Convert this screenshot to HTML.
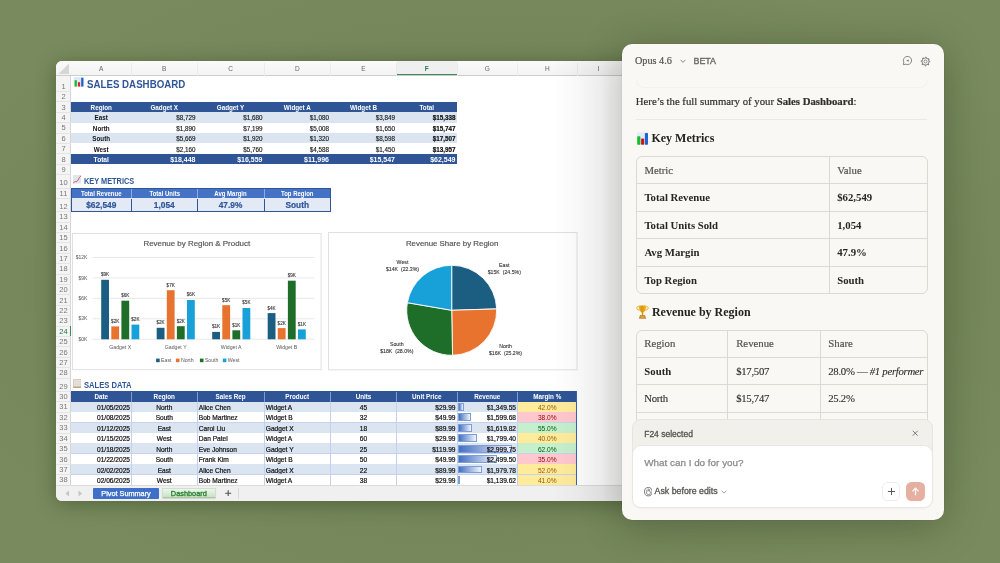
<!DOCTYPE html><html><head><meta charset="utf-8"><style>
html,body{margin:0;padding:0;width:1000px;height:563px;overflow:hidden;}
body{background:#798b5e;position:relative;font-family:'Liberation Sans', sans-serif;}
.a{position:absolute;}
</style></head><body>
<div class="a" style="left:0;top:0;width:1000px;height:563px;background:radial-gradient(ellipse 60% 60% at 50% 50%, rgba(40,55,20,0.18), rgba(0,0,0,0) 100%);"></div>
<div class="a" style="left:56.0px;top:61.0px;width:594.0px;height:439.5px;border-radius:6px;background:#fff;overflow:hidden;will-change:transform;box-shadow:0 3px 20px rgba(25,40,10,0.38);">
<div style="position:absolute;left:0.00px;top:0.00px;width:594.00px;height:14.50px;background:linear-gradient(#fafafa,#f3f3f3);border-bottom:1px solid #cdcdcd;box-sizing:border-box;"></div><div style="position:absolute;left:340.50px;top:0.00px;width:60.50px;height:13.50px;background:#efefef;"></div><div style="position:absolute;left:0.00px;top:14.50px;width:15.00px;height:409.50px;background:#f4f4f4;border-right:1px solid #d6d6d6;box-sizing:border-box;"></div><svg style="position:absolute;left:0;top:0" width="15" height="15"><polygon points="13,2.5 13,13 2.5,13" fill="#d6d6d6"/></svg><div style="position:absolute;left:15.00px;top:0.00px;width:60.50px;height:14.50px;display:flex;align-items:center;justify-content:center;white-space:nowrap;font:6.5px 'Liberation Sans', sans-serif;color:#666;padding-top:1px;box-sizing:border-box;">A</div><div style="position:absolute;left:75.00px;top:2.00px;width:1.00px;height:12.50px;background:#ebebeb;"></div><div style="position:absolute;left:75.50px;top:0.00px;width:65.50px;height:14.50px;display:flex;align-items:center;justify-content:center;white-space:nowrap;font:6.5px 'Liberation Sans', sans-serif;color:#666;padding-top:1px;box-sizing:border-box;">B</div><div style="position:absolute;left:140.50px;top:2.00px;width:1.00px;height:12.50px;background:#ebebeb;"></div><div style="position:absolute;left:141.00px;top:0.00px;width:67.00px;height:14.50px;display:flex;align-items:center;justify-content:center;white-space:nowrap;font:6.5px 'Liberation Sans', sans-serif;color:#666;padding-top:1px;box-sizing:border-box;">C</div><div style="position:absolute;left:207.50px;top:2.00px;width:1.00px;height:12.50px;background:#ebebeb;"></div><div style="position:absolute;left:208.00px;top:0.00px;width:66.50px;height:14.50px;display:flex;align-items:center;justify-content:center;white-space:nowrap;font:6.5px 'Liberation Sans', sans-serif;color:#666;padding-top:1px;box-sizing:border-box;">D</div><div style="position:absolute;left:274.00px;top:2.00px;width:1.00px;height:12.50px;background:#ebebeb;"></div><div style="position:absolute;left:274.50px;top:0.00px;width:66.00px;height:14.50px;display:flex;align-items:center;justify-content:center;white-space:nowrap;font:6.5px 'Liberation Sans', sans-serif;color:#666;padding-top:1px;box-sizing:border-box;">E</div><div style="position:absolute;left:340.00px;top:2.00px;width:1.00px;height:12.50px;background:#ebebeb;"></div><div style="position:absolute;left:340.50px;top:0.00px;width:60.50px;height:14.50px;display:flex;align-items:center;justify-content:center;white-space:nowrap;font:6.5px 'Liberation Sans', sans-serif;color:#2e7d4f;font-weight:bold;padding-top:1px;box-sizing:border-box;">F</div><div style="position:absolute;left:400.50px;top:2.00px;width:1.00px;height:12.50px;background:#ebebeb;"></div><div style="position:absolute;left:401.00px;top:0.00px;width:60.50px;height:14.50px;display:flex;align-items:center;justify-content:center;white-space:nowrap;font:6.5px 'Liberation Sans', sans-serif;color:#666;padding-top:1px;box-sizing:border-box;">G</div><div style="position:absolute;left:461.00px;top:2.00px;width:1.00px;height:12.50px;background:#ebebeb;"></div><div style="position:absolute;left:461.50px;top:0.00px;width:59.50px;height:14.50px;display:flex;align-items:center;justify-content:center;white-space:nowrap;font:6.5px 'Liberation Sans', sans-serif;color:#666;padding-top:1px;box-sizing:border-box;">H</div><div style="position:absolute;left:520.50px;top:2.00px;width:1.00px;height:12.50px;background:#ebebeb;"></div><div style="position:absolute;left:521.50px;top:0.00px;width:42.50px;height:14.50px;display:flex;align-items:center;justify-content:center;white-space:nowrap;font:6.5px 'Liberation Sans', sans-serif;color:#666;padding-top:1px;box-sizing:border-box;">I</div><div style="position:absolute;left:581.00px;top:2.00px;width:1.00px;height:12.50px;background:#ebebeb;"></div><div style="position:absolute;left:340.50px;top:12.80px;width:60.50px;height:1.70px;background:#3b8a55;"></div><div style="position:absolute;left:0.00px;top:20.10px;width:15.00px;height:10.40px;display:flex;align-items:center;justify-content:center;white-space:nowrap;font:7.5px 'Liberation Sans', sans-serif;color:#777;">1</div><div style="position:absolute;left:0.00px;top:30.00px;width:15.00px;height:1.00px;background:#e4e4e4;"></div><div style="position:absolute;left:0.00px;top:30.50px;width:15.00px;height:10.40px;display:flex;align-items:center;justify-content:center;white-space:nowrap;font:7.5px 'Liberation Sans', sans-serif;color:#777;">2</div><div style="position:absolute;left:0.00px;top:40.40px;width:15.00px;height:1.00px;background:#e4e4e4;"></div><div style="position:absolute;left:0.00px;top:40.90px;width:15.00px;height:10.40px;display:flex;align-items:center;justify-content:center;white-space:nowrap;font:7.5px 'Liberation Sans', sans-serif;color:#777;">3</div><div style="position:absolute;left:0.00px;top:50.80px;width:15.00px;height:1.00px;background:#e4e4e4;"></div><div style="position:absolute;left:0.00px;top:51.30px;width:15.00px;height:10.40px;display:flex;align-items:center;justify-content:center;white-space:nowrap;font:7.5px 'Liberation Sans', sans-serif;color:#777;">4</div><div style="position:absolute;left:0.00px;top:61.20px;width:15.00px;height:1.00px;background:#e4e4e4;"></div><div style="position:absolute;left:0.00px;top:61.70px;width:15.00px;height:10.40px;display:flex;align-items:center;justify-content:center;white-space:nowrap;font:7.5px 'Liberation Sans', sans-serif;color:#777;">5</div><div style="position:absolute;left:0.00px;top:71.60px;width:15.00px;height:1.00px;background:#e4e4e4;"></div><div style="position:absolute;left:0.00px;top:72.10px;width:15.00px;height:10.40px;display:flex;align-items:center;justify-content:center;white-space:nowrap;font:7.5px 'Liberation Sans', sans-serif;color:#777;">6</div><div style="position:absolute;left:0.00px;top:82.00px;width:15.00px;height:1.00px;background:#e4e4e4;"></div><div style="position:absolute;left:0.00px;top:82.50px;width:15.00px;height:10.40px;display:flex;align-items:center;justify-content:center;white-space:nowrap;font:7.5px 'Liberation Sans', sans-serif;color:#777;">7</div><div style="position:absolute;left:0.00px;top:92.40px;width:15.00px;height:1.00px;background:#e4e4e4;"></div><div style="position:absolute;left:0.00px;top:92.90px;width:15.00px;height:10.40px;display:flex;align-items:center;justify-content:center;white-space:nowrap;font:7.5px 'Liberation Sans', sans-serif;color:#777;">8</div><div style="position:absolute;left:0.00px;top:102.80px;width:15.00px;height:1.00px;background:#e4e4e4;"></div><div style="position:absolute;left:0.00px;top:103.30px;width:15.00px;height:10.40px;display:flex;align-items:center;justify-content:center;white-space:nowrap;font:7.5px 'Liberation Sans', sans-serif;color:#777;">9</div><div style="position:absolute;left:0.00px;top:113.20px;width:15.00px;height:1.00px;background:#e4e4e4;"></div><div style="position:absolute;left:0.00px;top:116.70px;width:15.00px;height:10.40px;display:flex;align-items:center;justify-content:center;white-space:nowrap;font:7.5px 'Liberation Sans', sans-serif;color:#777;">10</div><div style="position:absolute;left:0.00px;top:126.60px;width:15.00px;height:1.00px;background:#e4e4e4;"></div><div style="position:absolute;left:0.00px;top:127.10px;width:15.00px;height:10.40px;display:flex;align-items:center;justify-content:center;white-space:nowrap;font:7.5px 'Liberation Sans', sans-serif;color:#777;">11</div><div style="position:absolute;left:0.00px;top:137.00px;width:15.00px;height:1.00px;background:#e4e4e4;"></div><div style="position:absolute;left:0.00px;top:140.30px;width:15.00px;height:10.40px;display:flex;align-items:center;justify-content:center;white-space:nowrap;font:7.5px 'Liberation Sans', sans-serif;color:#777;">12</div><div style="position:absolute;left:0.00px;top:150.20px;width:15.00px;height:1.00px;background:#e4e4e4;"></div><div style="position:absolute;left:0.00px;top:150.70px;width:15.00px;height:10.40px;display:flex;align-items:center;justify-content:center;white-space:nowrap;font:7.5px 'Liberation Sans', sans-serif;color:#777;">13</div><div style="position:absolute;left:0.00px;top:160.60px;width:15.00px;height:1.00px;background:#e4e4e4;"></div><div style="position:absolute;left:0.00px;top:161.10px;width:15.00px;height:10.40px;display:flex;align-items:center;justify-content:center;white-space:nowrap;font:7.5px 'Liberation Sans', sans-serif;color:#777;">14</div><div style="position:absolute;left:0.00px;top:171.00px;width:15.00px;height:1.00px;background:#e4e4e4;"></div><div style="position:absolute;left:0.00px;top:171.50px;width:15.00px;height:10.40px;display:flex;align-items:center;justify-content:center;white-space:nowrap;font:7.5px 'Liberation Sans', sans-serif;color:#777;">15</div><div style="position:absolute;left:0.00px;top:181.40px;width:15.00px;height:1.00px;background:#e4e4e4;"></div><div style="position:absolute;left:0.00px;top:181.90px;width:15.00px;height:10.40px;display:flex;align-items:center;justify-content:center;white-space:nowrap;font:7.5px 'Liberation Sans', sans-serif;color:#777;">16</div><div style="position:absolute;left:0.00px;top:191.80px;width:15.00px;height:1.00px;background:#e4e4e4;"></div><div style="position:absolute;left:0.00px;top:192.30px;width:15.00px;height:10.40px;display:flex;align-items:center;justify-content:center;white-space:nowrap;font:7.5px 'Liberation Sans', sans-serif;color:#777;">17</div><div style="position:absolute;left:0.00px;top:202.20px;width:15.00px;height:1.00px;background:#e4e4e4;"></div><div style="position:absolute;left:0.00px;top:202.70px;width:15.00px;height:10.40px;display:flex;align-items:center;justify-content:center;white-space:nowrap;font:7.5px 'Liberation Sans', sans-serif;color:#777;">18</div><div style="position:absolute;left:0.00px;top:212.60px;width:15.00px;height:1.00px;background:#e4e4e4;"></div><div style="position:absolute;left:0.00px;top:213.10px;width:15.00px;height:10.40px;display:flex;align-items:center;justify-content:center;white-space:nowrap;font:7.5px 'Liberation Sans', sans-serif;color:#777;">19</div><div style="position:absolute;left:0.00px;top:223.00px;width:15.00px;height:1.00px;background:#e4e4e4;"></div><div style="position:absolute;left:0.00px;top:223.50px;width:15.00px;height:10.40px;display:flex;align-items:center;justify-content:center;white-space:nowrap;font:7.5px 'Liberation Sans', sans-serif;color:#777;">20</div><div style="position:absolute;left:0.00px;top:233.40px;width:15.00px;height:1.00px;background:#e4e4e4;"></div><div style="position:absolute;left:0.00px;top:233.90px;width:15.00px;height:10.40px;display:flex;align-items:center;justify-content:center;white-space:nowrap;font:7.5px 'Liberation Sans', sans-serif;color:#777;">21</div><div style="position:absolute;left:0.00px;top:243.80px;width:15.00px;height:1.00px;background:#e4e4e4;"></div><div style="position:absolute;left:0.00px;top:244.30px;width:15.00px;height:10.40px;display:flex;align-items:center;justify-content:center;white-space:nowrap;font:7.5px 'Liberation Sans', sans-serif;color:#777;">22</div><div style="position:absolute;left:0.00px;top:254.20px;width:15.00px;height:1.00px;background:#e4e4e4;"></div><div style="position:absolute;left:0.00px;top:254.70px;width:15.00px;height:10.40px;display:flex;align-items:center;justify-content:center;white-space:nowrap;font:7.5px 'Liberation Sans', sans-serif;color:#777;">23</div><div style="position:absolute;left:0.00px;top:264.60px;width:15.00px;height:1.00px;background:#e4e4e4;"></div><div style="position:absolute;left:0.00px;top:265.10px;width:15.00px;height:10.40px;display:flex;align-items:center;justify-content:center;white-space:nowrap;font:7.5px 'Liberation Sans', sans-serif;color:#217346;">24</div><div style="position:absolute;left:0.00px;top:275.00px;width:15.00px;height:1.00px;background:#e4e4e4;"></div><div style="position:absolute;left:0.00px;top:275.50px;width:15.00px;height:10.40px;display:flex;align-items:center;justify-content:center;white-space:nowrap;font:7.5px 'Liberation Sans', sans-serif;color:#777;">25</div><div style="position:absolute;left:0.00px;top:285.40px;width:15.00px;height:1.00px;background:#e4e4e4;"></div><div style="position:absolute;left:0.00px;top:285.90px;width:15.00px;height:10.40px;display:flex;align-items:center;justify-content:center;white-space:nowrap;font:7.5px 'Liberation Sans', sans-serif;color:#777;">26</div><div style="position:absolute;left:0.00px;top:295.80px;width:15.00px;height:1.00px;background:#e4e4e4;"></div><div style="position:absolute;left:0.00px;top:296.30px;width:15.00px;height:10.40px;display:flex;align-items:center;justify-content:center;white-space:nowrap;font:7.5px 'Liberation Sans', sans-serif;color:#777;">27</div><div style="position:absolute;left:0.00px;top:306.20px;width:15.00px;height:1.00px;background:#e4e4e4;"></div><div style="position:absolute;left:0.00px;top:306.70px;width:15.00px;height:10.40px;display:flex;align-items:center;justify-content:center;white-space:nowrap;font:7.5px 'Liberation Sans', sans-serif;color:#777;">28</div><div style="position:absolute;left:0.00px;top:316.60px;width:15.00px;height:1.00px;background:#e4e4e4;"></div><div style="position:absolute;left:0.00px;top:319.90px;width:15.00px;height:10.40px;display:flex;align-items:center;justify-content:center;white-space:nowrap;font:7.5px 'Liberation Sans', sans-serif;color:#777;">29</div><div style="position:absolute;left:0.00px;top:329.80px;width:15.00px;height:1.00px;background:#e4e4e4;"></div><div style="position:absolute;left:0.00px;top:330.33px;width:15.00px;height:10.40px;display:flex;align-items:center;justify-content:center;white-space:nowrap;font:7.5px 'Liberation Sans', sans-serif;color:#777;">30</div><div style="position:absolute;left:0.00px;top:340.23px;width:15.00px;height:1.00px;background:#e4e4e4;"></div><div style="position:absolute;left:0.00px;top:340.76px;width:15.00px;height:10.40px;display:flex;align-items:center;justify-content:center;white-space:nowrap;font:7.5px 'Liberation Sans', sans-serif;color:#777;">31</div><div style="position:absolute;left:0.00px;top:350.66px;width:15.00px;height:1.00px;background:#e4e4e4;"></div><div style="position:absolute;left:0.00px;top:351.19px;width:15.00px;height:10.40px;display:flex;align-items:center;justify-content:center;white-space:nowrap;font:7.5px 'Liberation Sans', sans-serif;color:#777;">32</div><div style="position:absolute;left:0.00px;top:361.09px;width:15.00px;height:1.00px;background:#e4e4e4;"></div><div style="position:absolute;left:0.00px;top:361.62px;width:15.00px;height:10.40px;display:flex;align-items:center;justify-content:center;white-space:nowrap;font:7.5px 'Liberation Sans', sans-serif;color:#777;">33</div><div style="position:absolute;left:0.00px;top:371.52px;width:15.00px;height:1.00px;background:#e4e4e4;"></div><div style="position:absolute;left:0.00px;top:372.05px;width:15.00px;height:10.40px;display:flex;align-items:center;justify-content:center;white-space:nowrap;font:7.5px 'Liberation Sans', sans-serif;color:#777;">34</div><div style="position:absolute;left:0.00px;top:381.95px;width:15.00px;height:1.00px;background:#e4e4e4;"></div><div style="position:absolute;left:0.00px;top:382.48px;width:15.00px;height:10.40px;display:flex;align-items:center;justify-content:center;white-space:nowrap;font:7.5px 'Liberation Sans', sans-serif;color:#777;">35</div><div style="position:absolute;left:0.00px;top:392.38px;width:15.00px;height:1.00px;background:#e4e4e4;"></div><div style="position:absolute;left:0.00px;top:392.91px;width:15.00px;height:10.40px;display:flex;align-items:center;justify-content:center;white-space:nowrap;font:7.5px 'Liberation Sans', sans-serif;color:#777;">36</div><div style="position:absolute;left:0.00px;top:402.81px;width:15.00px;height:1.00px;background:#e4e4e4;"></div><div style="position:absolute;left:0.00px;top:403.34px;width:15.00px;height:10.40px;display:flex;align-items:center;justify-content:center;white-space:nowrap;font:7.5px 'Liberation Sans', sans-serif;color:#777;">37</div><div style="position:absolute;left:0.00px;top:413.24px;width:15.00px;height:1.00px;background:#e4e4e4;"></div><div style="position:absolute;left:0.00px;top:413.77px;width:15.00px;height:10.40px;display:flex;align-items:center;justify-content:center;white-space:nowrap;font:7.5px 'Liberation Sans', sans-serif;color:#777;">38</div><div style="position:absolute;left:0.00px;top:423.67px;width:15.00px;height:1.00px;background:#e4e4e4;"></div><div style="position:absolute;left:13.50px;top:265.10px;width:1.50px;height:10.40px;background:#3b8a55;"></div><svg style="position:absolute;left:18.0px;top:16.0px" width="10" height="10" viewBox="0 0 10 10"><rect x="0" y="0" width="10" height="10" fill="#dfe9f3"/><rect x="0.6" y="3.2" width="2.2" height="6.3" fill="#1db32b"/><rect x="3.9" y="5.2" width="2.2" height="4.3" fill="#d9262a"/><rect x="7.2" y="0.8" width="2.2" height="8.7" fill="#1f5fcf"/></svg><div style="position:absolute;left:31.299999999999997px;top:17.200000000000003px;line-height:12px;white-space:nowrap;font:bold 10.8px 'Liberation Sans', sans-serif;color:#2f5597;transform:scaleX(0.9);transform-origin:0 0;">SALES DASHBOARD</div><div style="position:absolute;left:15.00px;top:40.90px;width:386.00px;height:10.40px;background:#2f5597;"></div><div style="position:absolute;left:15.00px;top:40.90px;width:60.50px;height:10.40px;display:flex;align-items:center;justify-content:center;white-space:nowrap;font:bold 6.3px 'Liberation Sans', sans-serif;color:#fff;">Region</div><div style="position:absolute;left:75.50px;top:40.90px;width:65.50px;height:10.40px;display:flex;align-items:center;justify-content:center;white-space:nowrap;font:bold 6.3px 'Liberation Sans', sans-serif;color:#fff;">Gadget X</div><div style="position:absolute;left:141.00px;top:40.90px;width:67.00px;height:10.40px;display:flex;align-items:center;justify-content:center;white-space:nowrap;font:bold 6.3px 'Liberation Sans', sans-serif;color:#fff;">Gadget Y</div><div style="position:absolute;left:208.00px;top:40.90px;width:66.50px;height:10.40px;display:flex;align-items:center;justify-content:center;white-space:nowrap;font:bold 6.3px 'Liberation Sans', sans-serif;color:#fff;">Widget A</div><div style="position:absolute;left:274.50px;top:40.90px;width:66.00px;height:10.40px;display:flex;align-items:center;justify-content:center;white-space:nowrap;font:bold 6.3px 'Liberation Sans', sans-serif;color:#fff;">Widget B</div><div style="position:absolute;left:340.50px;top:40.90px;width:60.50px;height:10.40px;display:flex;align-items:center;justify-content:center;white-space:nowrap;font:bold 6.3px 'Liberation Sans', sans-serif;color:#fff;">Total</div><div style="position:absolute;left:15.00px;top:51.30px;width:386.00px;height:10.40px;background:#dae5f1;"></div><div style="position:absolute;left:15.00px;top:51.30px;width:60.50px;height:10.40px;display:flex;align-items:center;justify-content:center;white-space:nowrap;font:bold 6.3px 'Liberation Sans', sans-serif;color:#111;padding-top:1px;box-sizing:border-box;">East</div><div style="position:absolute;left:75.50px;top:51.30px;width:64.00px;height:10.40px;display:flex;align-items:center;justify-content:flex-end;white-space:nowrap;font:6.3px 'Liberation Sans', sans-serif;color:#1a1a1a;-webkit-text-stroke:0.15px #1a1a1a;padding-top:1px;box-sizing:border-box;">$8,729</div><div style="position:absolute;left:141.00px;top:51.30px;width:65.50px;height:10.40px;display:flex;align-items:center;justify-content:flex-end;white-space:nowrap;font:6.3px 'Liberation Sans', sans-serif;color:#1a1a1a;-webkit-text-stroke:0.15px #1a1a1a;padding-top:1px;box-sizing:border-box;">$1,680</div><div style="position:absolute;left:208.00px;top:51.30px;width:65.00px;height:10.40px;display:flex;align-items:center;justify-content:flex-end;white-space:nowrap;font:6.3px 'Liberation Sans', sans-serif;color:#1a1a1a;-webkit-text-stroke:0.15px #1a1a1a;padding-top:1px;box-sizing:border-box;">$1,080</div><div style="position:absolute;left:274.50px;top:51.30px;width:64.50px;height:10.40px;display:flex;align-items:center;justify-content:flex-end;white-space:nowrap;font:6.3px 'Liberation Sans', sans-serif;color:#1a1a1a;-webkit-text-stroke:0.15px #1a1a1a;padding-top:1px;box-sizing:border-box;">$3,849</div><div style="position:absolute;left:340.50px;top:51.30px;width:59.00px;height:10.40px;display:flex;align-items:center;justify-content:flex-end;white-space:nowrap;font:bold 6.3px 'Liberation Sans', sans-serif;color:#111;-webkit-text-stroke:0.2px #111;padding-top:1px;box-sizing:border-box;">$15,338</div><div style="position:absolute;left:15.00px;top:61.70px;width:386.00px;height:10.40px;background:#ffffff;"></div><div style="position:absolute;left:15.00px;top:61.70px;width:60.50px;height:10.40px;display:flex;align-items:center;justify-content:center;white-space:nowrap;font:bold 6.3px 'Liberation Sans', sans-serif;color:#111;padding-top:1px;box-sizing:border-box;">North</div><div style="position:absolute;left:75.50px;top:61.70px;width:64.00px;height:10.40px;display:flex;align-items:center;justify-content:flex-end;white-space:nowrap;font:6.3px 'Liberation Sans', sans-serif;color:#1a1a1a;-webkit-text-stroke:0.15px #1a1a1a;padding-top:1px;box-sizing:border-box;">$1,890</div><div style="position:absolute;left:141.00px;top:61.70px;width:65.50px;height:10.40px;display:flex;align-items:center;justify-content:flex-end;white-space:nowrap;font:6.3px 'Liberation Sans', sans-serif;color:#1a1a1a;-webkit-text-stroke:0.15px #1a1a1a;padding-top:1px;box-sizing:border-box;">$7,199</div><div style="position:absolute;left:208.00px;top:61.70px;width:65.00px;height:10.40px;display:flex;align-items:center;justify-content:flex-end;white-space:nowrap;font:6.3px 'Liberation Sans', sans-serif;color:#1a1a1a;-webkit-text-stroke:0.15px #1a1a1a;padding-top:1px;box-sizing:border-box;">$5,008</div><div style="position:absolute;left:274.50px;top:61.70px;width:64.50px;height:10.40px;display:flex;align-items:center;justify-content:flex-end;white-space:nowrap;font:6.3px 'Liberation Sans', sans-serif;color:#1a1a1a;-webkit-text-stroke:0.15px #1a1a1a;padding-top:1px;box-sizing:border-box;">$1,650</div><div style="position:absolute;left:340.50px;top:61.70px;width:59.00px;height:10.40px;display:flex;align-items:center;justify-content:flex-end;white-space:nowrap;font:bold 6.3px 'Liberation Sans', sans-serif;color:#111;-webkit-text-stroke:0.2px #111;padding-top:1px;box-sizing:border-box;">$15,747</div><div style="position:absolute;left:15.00px;top:72.10px;width:386.00px;height:10.40px;background:#dae5f1;"></div><div style="position:absolute;left:15.00px;top:72.10px;width:60.50px;height:10.40px;display:flex;align-items:center;justify-content:center;white-space:nowrap;font:bold 6.3px 'Liberation Sans', sans-serif;color:#111;padding-top:1px;box-sizing:border-box;">South</div><div style="position:absolute;left:75.50px;top:72.10px;width:64.00px;height:10.40px;display:flex;align-items:center;justify-content:flex-end;white-space:nowrap;font:6.3px 'Liberation Sans', sans-serif;color:#1a1a1a;-webkit-text-stroke:0.15px #1a1a1a;padding-top:1px;box-sizing:border-box;">$5,669</div><div style="position:absolute;left:141.00px;top:72.10px;width:65.50px;height:10.40px;display:flex;align-items:center;justify-content:flex-end;white-space:nowrap;font:6.3px 'Liberation Sans', sans-serif;color:#1a1a1a;-webkit-text-stroke:0.15px #1a1a1a;padding-top:1px;box-sizing:border-box;">$1,920</div><div style="position:absolute;left:208.00px;top:72.10px;width:65.00px;height:10.40px;display:flex;align-items:center;justify-content:flex-end;white-space:nowrap;font:6.3px 'Liberation Sans', sans-serif;color:#1a1a1a;-webkit-text-stroke:0.15px #1a1a1a;padding-top:1px;box-sizing:border-box;">$1,320</div><div style="position:absolute;left:274.50px;top:72.10px;width:64.50px;height:10.40px;display:flex;align-items:center;justify-content:flex-end;white-space:nowrap;font:6.3px 'Liberation Sans', sans-serif;color:#1a1a1a;-webkit-text-stroke:0.15px #1a1a1a;padding-top:1px;box-sizing:border-box;">$8,598</div><div style="position:absolute;left:340.50px;top:72.10px;width:59.00px;height:10.40px;display:flex;align-items:center;justify-content:flex-end;white-space:nowrap;font:bold 6.3px 'Liberation Sans', sans-serif;color:#111;-webkit-text-stroke:0.2px #111;padding-top:1px;box-sizing:border-box;">$17,507</div><div style="position:absolute;left:15.00px;top:82.50px;width:386.00px;height:10.40px;background:#ffffff;"></div><div style="position:absolute;left:15.00px;top:82.50px;width:60.50px;height:10.40px;display:flex;align-items:center;justify-content:center;white-space:nowrap;font:bold 6.3px 'Liberation Sans', sans-serif;color:#111;padding-top:1px;box-sizing:border-box;">West</div><div style="position:absolute;left:75.50px;top:82.50px;width:64.00px;height:10.40px;display:flex;align-items:center;justify-content:flex-end;white-space:nowrap;font:6.3px 'Liberation Sans', sans-serif;color:#1a1a1a;-webkit-text-stroke:0.15px #1a1a1a;padding-top:1px;box-sizing:border-box;">$2,160</div><div style="position:absolute;left:141.00px;top:82.50px;width:65.50px;height:10.40px;display:flex;align-items:center;justify-content:flex-end;white-space:nowrap;font:6.3px 'Liberation Sans', sans-serif;color:#1a1a1a;-webkit-text-stroke:0.15px #1a1a1a;padding-top:1px;box-sizing:border-box;">$5,760</div><div style="position:absolute;left:208.00px;top:82.50px;width:65.00px;height:10.40px;display:flex;align-items:center;justify-content:flex-end;white-space:nowrap;font:6.3px 'Liberation Sans', sans-serif;color:#1a1a1a;-webkit-text-stroke:0.15px #1a1a1a;padding-top:1px;box-sizing:border-box;">$4,588</div><div style="position:absolute;left:274.50px;top:82.50px;width:64.50px;height:10.40px;display:flex;align-items:center;justify-content:flex-end;white-space:nowrap;font:6.3px 'Liberation Sans', sans-serif;color:#1a1a1a;-webkit-text-stroke:0.15px #1a1a1a;padding-top:1px;box-sizing:border-box;">$1,450</div><div style="position:absolute;left:340.50px;top:82.50px;width:59.00px;height:10.40px;display:flex;align-items:center;justify-content:flex-end;white-space:nowrap;font:bold 6.3px 'Liberation Sans', sans-serif;color:#111;-webkit-text-stroke:0.2px #111;padding-top:1px;box-sizing:border-box;">$13,957</div><div style="position:absolute;left:15.00px;top:92.90px;width:386.00px;height:10.40px;background:#2f5597;"></div><div style="position:absolute;left:15.00px;top:92.90px;width:60.50px;height:10.40px;display:flex;align-items:center;justify-content:center;white-space:nowrap;font:bold 6.6px 'Liberation Sans', sans-serif;color:#fff;">Total</div><div style="position:absolute;left:75.50px;top:92.90px;width:64.00px;height:10.40px;display:flex;align-items:center;justify-content:flex-end;white-space:nowrap;font:bold 7px 'Liberation Sans', sans-serif;color:#fff;">$18,448</div><div style="position:absolute;left:141.00px;top:92.90px;width:65.50px;height:10.40px;display:flex;align-items:center;justify-content:flex-end;white-space:nowrap;font:bold 7px 'Liberation Sans', sans-serif;color:#fff;">$16,559</div><div style="position:absolute;left:208.00px;top:92.90px;width:65.00px;height:10.40px;display:flex;align-items:center;justify-content:flex-end;white-space:nowrap;font:bold 7px 'Liberation Sans', sans-serif;color:#fff;">$11,996</div><div style="position:absolute;left:274.50px;top:92.90px;width:64.50px;height:10.40px;display:flex;align-items:center;justify-content:flex-end;white-space:nowrap;font:bold 7px 'Liberation Sans', sans-serif;color:#fff;">$15,547</div><div style="position:absolute;left:340.50px;top:92.90px;width:59.00px;height:10.40px;display:flex;align-items:center;justify-content:flex-end;white-space:nowrap;font:bold 7px 'Liberation Sans', sans-serif;color:#fff;">$62,549</div><svg style="position:absolute;left:17.0px;top:114.4px" width="8.2" height="8.6" viewBox="0 0 8.2 8.6"><rect x="0" y="0" width="8.2" height="8.6" fill="#dfe7ee"/><path d="M0.5,8 C1.2,6.8 1.8,6.4 2.6,6.6 C3.6,6.9 4.4,6.3 5.2,4.9 C6,3.5 6.6,1.6 7.7,1.1" fill="none" stroke="#d84a4a" stroke-width="0.95" stroke-linecap="round"/></svg><div style="position:absolute;left:28.0px;top:114.80000000000001px;line-height:10px;white-space:nowrap;font:bold 8.9px 'Liberation Sans', sans-serif;color:#2f5597;transform:scaleX(0.83);transform-origin:0 0;">KEY METRICS</div><div style="position:absolute;left:15.00px;top:127.10px;width:259.50px;height:23.60px;border:1px solid #2f5597;border-bottom-width:1.8px;box-sizing:border-box;background:#e3eaf5;"></div><div style="position:absolute;left:16.00px;top:128.10px;width:257.50px;height:9.40px;background:#4472c4;"></div><div style="position:absolute;left:15.00px;top:127.40px;width:60.50px;height:10.40px;display:flex;align-items:center;justify-content:center;white-space:nowrap;font:bold 6.9px 'Liberation Sans', sans-serif;color:#fff;transform:scaleX(0.87);">Total Revenue</div><div style="position:absolute;left:15.00px;top:137.50px;width:60.50px;height:13.20px;display:flex;align-items:center;justify-content:center;white-space:nowrap;font:bold 8.3px 'Liberation Sans', sans-serif;color:#2f5597;-webkit-text-stroke:0.2px #2f5597;padding-top:0.5px;box-sizing:border-box;">$62,549</div><div style="position:absolute;left:75.50px;top:127.40px;width:65.50px;height:10.40px;display:flex;align-items:center;justify-content:center;white-space:nowrap;font:bold 6.9px 'Liberation Sans', sans-serif;color:#fff;transform:scaleX(0.87);">Total Units</div><div style="position:absolute;left:75.50px;top:137.50px;width:65.50px;height:13.20px;display:flex;align-items:center;justify-content:center;white-space:nowrap;font:bold 8.3px 'Liberation Sans', sans-serif;color:#2f5597;-webkit-text-stroke:0.2px #2f5597;padding-top:0.5px;box-sizing:border-box;">1,054</div><div style="position:absolute;left:75.00px;top:128.10px;width:1.00px;height:9.40px;background:#8faadc;"></div><div style="position:absolute;left:75.00px;top:137.50px;width:1.00px;height:13.20px;background:#2f5597;"></div><div style="position:absolute;left:141.00px;top:127.40px;width:67.00px;height:10.40px;display:flex;align-items:center;justify-content:center;white-space:nowrap;font:bold 6.9px 'Liberation Sans', sans-serif;color:#fff;transform:scaleX(0.87);">Avg Margin</div><div style="position:absolute;left:141.00px;top:137.50px;width:67.00px;height:13.20px;display:flex;align-items:center;justify-content:center;white-space:nowrap;font:bold 8.3px 'Liberation Sans', sans-serif;color:#2f5597;-webkit-text-stroke:0.2px #2f5597;padding-top:0.5px;box-sizing:border-box;">47.9%</div><div style="position:absolute;left:140.50px;top:128.10px;width:1.00px;height:9.40px;background:#8faadc;"></div><div style="position:absolute;left:140.50px;top:137.50px;width:1.00px;height:13.20px;background:#2f5597;"></div><div style="position:absolute;left:208.00px;top:127.40px;width:66.50px;height:10.40px;display:flex;align-items:center;justify-content:center;white-space:nowrap;font:bold 6.9px 'Liberation Sans', sans-serif;color:#fff;transform:scaleX(0.87);">Top Region</div><div style="position:absolute;left:208.00px;top:137.50px;width:66.50px;height:13.20px;display:flex;align-items:center;justify-content:center;white-space:nowrap;font:bold 8.3px 'Liberation Sans', sans-serif;color:#2f5597;-webkit-text-stroke:0.2px #2f5597;padding-top:0.5px;box-sizing:border-box;">South</div><div style="position:absolute;left:207.50px;top:128.10px;width:1.00px;height:9.40px;background:#8faadc;"></div><div style="position:absolute;left:207.50px;top:137.50px;width:1.00px;height:13.20px;background:#2f5597;"></div><svg style="position:absolute;left:15.700000000000003px;top:171.6px;overflow:visible" width="249.6" height="137.2" viewBox="71.7 232.6 249.6 137.2"><rect x="72.2" y="233.1" width="248.6" height="136.2" fill="#fff" stroke="#e0e0e0" stroke-width="1"/><line x1="92.3" y1="338.9" x2="314" y2="338.9" stroke="#e3e3e3" stroke-width="0.8"/><text x="87" y="340.6" text-anchor="end" font-family="Liberation Sans" font-size="5" fill="#666" stroke="#666" stroke-width="0.05">$0K</text><line x1="92.3" y1="318.4" x2="314" y2="318.4" stroke="#e3e3e3" stroke-width="0.8"/><text x="87" y="320.1" text-anchor="end" font-family="Liberation Sans" font-size="5" fill="#666" stroke="#666" stroke-width="0.05">$3K</text><line x1="92.3" y1="298.0" x2="314" y2="298.0" stroke="#e3e3e3" stroke-width="0.8"/><text x="87" y="299.7" text-anchor="end" font-family="Liberation Sans" font-size="5" fill="#666" stroke="#666" stroke-width="0.05">$6K</text><line x1="92.3" y1="277.5" x2="314" y2="277.5" stroke="#e3e3e3" stroke-width="0.8"/><text x="87" y="279.2" text-anchor="end" font-family="Liberation Sans" font-size="5" fill="#666" stroke="#666" stroke-width="0.05">$9K</text><line x1="92.3" y1="257.1" x2="314" y2="257.1" stroke="#e3e3e3" stroke-width="0.8"/><text x="87" y="258.8" text-anchor="end" font-family="Liberation Sans" font-size="5" fill="#666" stroke="#666" stroke-width="0.05">$12K</text><text x="196.5" y="245.3" text-anchor="middle" font-family="Liberation Sans" font-size="7.95" fill="#555" stroke="#555" stroke-width="0.18">Revenue by Region &amp; Product</text><rect x="100.9" y="279.4" width="7.8" height="59.5" fill="#1b5e82"/><text x="104.8" y="275.9" text-anchor="middle" font-family="Liberation Sans" font-size="4.6" fill="#3a3a3a" stroke="#3a3a3a" stroke-width="0.12">$9K</text><rect x="111.0" y="326.0" width="7.8" height="12.9" fill="#e8732e"/><text x="114.9" y="322.5" text-anchor="middle" font-family="Liberation Sans" font-size="4.6" fill="#3a3a3a" stroke="#3a3a3a" stroke-width="0.12">$2K</text><rect x="121.1" y="300.3" width="7.8" height="38.6" fill="#1e6e2a"/><text x="125.0" y="296.8" text-anchor="middle" font-family="Liberation Sans" font-size="4.6" fill="#3a3a3a" stroke="#3a3a3a" stroke-width="0.12">$6K</text><rect x="131.2" y="324.2" width="7.8" height="14.7" fill="#18a0d8"/><text x="135.1" y="320.7" text-anchor="middle" font-family="Liberation Sans" font-size="4.6" fill="#3a3a3a" stroke="#3a3a3a" stroke-width="0.12">$2K</text><text x="119.9" y="348.8" text-anchor="middle" font-family="Liberation Sans" font-size="5.2" fill="#595959">Gadget X</text><rect x="156.4" y="327.4" width="7.8" height="11.5" fill="#1b5e82"/><text x="160.3" y="323.9" text-anchor="middle" font-family="Liberation Sans" font-size="4.6" fill="#3a3a3a" stroke="#3a3a3a" stroke-width="0.12">$2K</text><rect x="166.5" y="289.8" width="7.8" height="49.1" fill="#e8732e"/><text x="170.4" y="286.3" text-anchor="middle" font-family="Liberation Sans" font-size="4.6" fill="#3a3a3a" stroke="#3a3a3a" stroke-width="0.12">$7K</text><rect x="176.6" y="325.8" width="7.8" height="13.1" fill="#1e6e2a"/><text x="180.5" y="322.3" text-anchor="middle" font-family="Liberation Sans" font-size="4.6" fill="#3a3a3a" stroke="#3a3a3a" stroke-width="0.12">$2K</text><rect x="186.7" y="299.6" width="7.8" height="39.3" fill="#18a0d8"/><text x="190.6" y="296.1" text-anchor="middle" font-family="Liberation Sans" font-size="4.6" fill="#3a3a3a" stroke="#3a3a3a" stroke-width="0.12">$6K</text><text x="175.4" y="348.8" text-anchor="middle" font-family="Liberation Sans" font-size="5.2" fill="#595959">Gadget Y</text><rect x="211.9" y="331.5" width="7.8" height="7.4" fill="#1b5e82"/><text x="215.8" y="328.0" text-anchor="middle" font-family="Liberation Sans" font-size="4.6" fill="#3a3a3a" stroke="#3a3a3a" stroke-width="0.12">$1K</text><rect x="222.0" y="304.8" width="7.8" height="34.1" fill="#e8732e"/><text x="225.9" y="301.3" text-anchor="middle" font-family="Liberation Sans" font-size="4.6" fill="#3a3a3a" stroke="#3a3a3a" stroke-width="0.12">$5K</text><rect x="232.1" y="329.9" width="7.8" height="9.0" fill="#1e6e2a"/><text x="236.0" y="326.4" text-anchor="middle" font-family="Liberation Sans" font-size="4.6" fill="#3a3a3a" stroke="#3a3a3a" stroke-width="0.12">$1K</text><rect x="242.2" y="307.6" width="7.8" height="31.3" fill="#18a0d8"/><text x="246.1" y="304.1" text-anchor="middle" font-family="Liberation Sans" font-size="4.6" fill="#3a3a3a" stroke="#3a3a3a" stroke-width="0.12">$5K</text><text x="230.9" y="348.8" text-anchor="middle" font-family="Liberation Sans" font-size="5.2" fill="#595959">Widget A</text><rect x="267.4" y="312.7" width="7.8" height="26.2" fill="#1b5e82"/><text x="271.3" y="309.2" text-anchor="middle" font-family="Liberation Sans" font-size="4.6" fill="#3a3a3a" stroke="#3a3a3a" stroke-width="0.12">$4K</text><rect x="277.5" y="327.7" width="7.8" height="11.2" fill="#e8732e"/><text x="281.4" y="324.2" text-anchor="middle" font-family="Liberation Sans" font-size="4.6" fill="#3a3a3a" stroke="#3a3a3a" stroke-width="0.12">$2K</text><rect x="287.6" y="280.3" width="7.8" height="58.6" fill="#1e6e2a"/><text x="291.5" y="276.8" text-anchor="middle" font-family="Liberation Sans" font-size="4.6" fill="#3a3a3a" stroke="#3a3a3a" stroke-width="0.12">$9K</text><rect x="297.7" y="329.0" width="7.8" height="9.9" fill="#18a0d8"/><text x="301.6" y="325.5" text-anchor="middle" font-family="Liberation Sans" font-size="4.6" fill="#3a3a3a" stroke="#3a3a3a" stroke-width="0.12">$1K</text><text x="286.4" y="348.8" text-anchor="middle" font-family="Liberation Sans" font-size="5.2" fill="#595959">Widget B</text><rect x="155.8" y="358.2" width="3.6" height="3.6" fill="#1b5e82"/><text x="160.8" y="361.9" font-family="Liberation Sans" font-size="5.2" fill="#595959">East</text><rect x="175.6" y="358.2" width="3.6" height="3.6" fill="#e8732e"/><text x="180.6" y="361.9" font-family="Liberation Sans" font-size="5.2" fill="#595959">North</text><rect x="199.6" y="358.2" width="3.6" height="3.6" fill="#1e6e2a"/><text x="204.6" y="361.9" font-family="Liberation Sans" font-size="5.2" fill="#595959">South</text><rect x="222.5" y="358.2" width="3.6" height="3.6" fill="#18a0d8"/><text x="227.5" y="361.9" font-family="Liberation Sans" font-size="5.2" fill="#595959">West</text></svg><svg style="position:absolute;left:271.5px;top:171.0px;overflow:visible" width="249.5" height="138.3" viewBox="327.5 232.0 249.5 138.3"><rect x="328.0" y="232.5" width="248.5" height="137.3" fill="#fff" stroke="#e0e0e0" stroke-width="1"/><text x="451.6" y="245.8" text-anchor="middle" font-family="Liberation Sans" font-size="7.9" fill="#555" stroke="#555" stroke-width="0.18">Revenue Share by Region</text><path d="M451.2,310.3 L451.20,265.30 A45.0,45.0 0 0 1 496.18,308.89 Z" fill="#1b5e82" stroke="#fff" stroke-width="0.9" stroke-linejoin="round"/><path d="M451.2,310.3 L496.18,308.89 A45.0,45.0 0 0 1 452.05,355.29 Z" fill="#e8732e" stroke="#fff" stroke-width="0.9" stroke-linejoin="round"/><path d="M451.2,310.3 L452.05,355.29 A45.0,45.0 0 0 1 406.85,302.70 Z" fill="#1e6e2a" stroke="#fff" stroke-width="0.9" stroke-linejoin="round"/><path d="M451.2,310.3 L406.85,302.70 A45.0,45.0 0 0 1 451.20,265.30 Z" fill="#18a0d8" stroke="#fff" stroke-width="0.9" stroke-linejoin="round"/><text x="402.0" y="264.3" text-anchor="middle" font-family="Liberation Sans" font-size="5.2" fill="#333" stroke="#333" stroke-width="0.1">West</text><text x="402.0" y="271.1" text-anchor="middle" font-family="Liberation Sans" font-size="5.2" fill="#333" stroke="#333" stroke-width="0.1">$14K&#160; (22.3%)</text><text x="503.8" y="266.8" text-anchor="middle" font-family="Liberation Sans" font-size="5.2" fill="#333" stroke="#333" stroke-width="0.1">East</text><text x="503.8" y="273.6" text-anchor="middle" font-family="Liberation Sans" font-size="5.2" fill="#333" stroke="#333" stroke-width="0.1">$15K&#160; (24.5%)</text><text x="396.3" y="346.3" text-anchor="middle" font-family="Liberation Sans" font-size="5.2" fill="#333" stroke="#333" stroke-width="0.1">South</text><text x="396.3" y="353.1" text-anchor="middle" font-family="Liberation Sans" font-size="5.2" fill="#333" stroke="#333" stroke-width="0.1">$18K&#160; (28.0%)</text><text x="505.0" y="348.3" text-anchor="middle" font-family="Liberation Sans" font-size="5.2" fill="#333" stroke="#333" stroke-width="0.1">North</text><text x="505.0" y="355.1" text-anchor="middle" font-family="Liberation Sans" font-size="5.2" fill="#333" stroke="#333" stroke-width="0.1">$16K&#160; (25.2%)</text></svg><svg style="position:absolute;left:16.799999999999997px;top:317.9px" width="8.5" height="9" viewBox="0 0 8.5 9"><rect x="0.3" y="0.3" width="7.9" height="8.4" rx="1" fill="#e6e4e0" stroke="#c9a676" stroke-width="0.6"/><rect x="0.4" y="7.6" width="7.7" height="1" fill="#b98a52"/><path d="M1.5,2.5 H7 M1.5,4 H7 M1.5,5.5 H7" stroke="#cfcfcf" stroke-width="0.4"/></svg><div style="position:absolute;left:28.0px;top:319.5px;line-height:9px;white-space:nowrap;font:bold 8.2px 'Liberation Sans', sans-serif;color:#2f5597;transform:scaleX(0.93);transform-origin:0 0;">SALES DATA</div><div style="position:absolute;left:15.00px;top:330.30px;width:506.00px;height:10.43px;background:#2f5597;"></div><div style="position:absolute;left:15.00px;top:330.30px;width:60.50px;height:10.43px;display:flex;align-items:center;justify-content:center;white-space:nowrap;font:bold 6.3px 'Liberation Sans', sans-serif;color:#fff;padding-top:0.5px;box-sizing:border-box;">Date</div><div style="position:absolute;left:75.50px;top:330.30px;width:65.50px;height:10.43px;display:flex;align-items:center;justify-content:center;white-space:nowrap;font:bold 6.3px 'Liberation Sans', sans-serif;color:#fff;padding-top:0.5px;box-sizing:border-box;">Region</div><div style="position:absolute;left:75.00px;top:331.30px;width:1.00px;height:9.43px;background:#7f9bd0;"></div><div style="position:absolute;left:141.00px;top:330.30px;width:67.00px;height:10.43px;display:flex;align-items:center;justify-content:center;white-space:nowrap;font:bold 6.3px 'Liberation Sans', sans-serif;color:#fff;padding-top:0.5px;box-sizing:border-box;">Sales Rep</div><div style="position:absolute;left:140.50px;top:331.30px;width:1.00px;height:9.43px;background:#7f9bd0;"></div><div style="position:absolute;left:208.00px;top:330.30px;width:66.50px;height:10.43px;display:flex;align-items:center;justify-content:center;white-space:nowrap;font:bold 6.3px 'Liberation Sans', sans-serif;color:#fff;padding-top:0.5px;box-sizing:border-box;">Product</div><div style="position:absolute;left:207.50px;top:331.30px;width:1.00px;height:9.43px;background:#7f9bd0;"></div><div style="position:absolute;left:274.50px;top:330.30px;width:66.00px;height:10.43px;display:flex;align-items:center;justify-content:center;white-space:nowrap;font:bold 6.3px 'Liberation Sans', sans-serif;color:#fff;padding-top:0.5px;box-sizing:border-box;">Units</div><div style="position:absolute;left:274.00px;top:331.30px;width:1.00px;height:9.43px;background:#7f9bd0;"></div><div style="position:absolute;left:340.50px;top:330.30px;width:60.50px;height:10.43px;display:flex;align-items:center;justify-content:center;white-space:nowrap;font:bold 6.3px 'Liberation Sans', sans-serif;color:#fff;padding-top:0.5px;box-sizing:border-box;">Unit Price</div><div style="position:absolute;left:340.00px;top:331.30px;width:1.00px;height:9.43px;background:#7f9bd0;"></div><div style="position:absolute;left:401.00px;top:330.30px;width:60.50px;height:10.43px;display:flex;align-items:center;justify-content:center;white-space:nowrap;font:bold 6.3px 'Liberation Sans', sans-serif;color:#fff;padding-top:0.5px;box-sizing:border-box;">Revenue</div><div style="position:absolute;left:400.50px;top:331.30px;width:1.00px;height:9.43px;background:#7f9bd0;"></div><div style="position:absolute;left:461.50px;top:330.30px;width:59.50px;height:10.43px;display:flex;align-items:center;justify-content:center;white-space:nowrap;font:bold 6.3px 'Liberation Sans', sans-serif;color:#fff;padding-top:0.5px;box-sizing:border-box;">Margin %</div><div style="position:absolute;left:461.00px;top:331.30px;width:1.00px;height:9.43px;background:#7f9bd0;"></div><div style="position:absolute;left:15.00px;top:340.73px;width:506.00px;height:10.43px;background:#dae5f1;"></div><div style="position:absolute;left:401.60px;top:342.03px;width:6.50px;height:7.83px;background:linear-gradient(to right,#4470c2,#f2f5fb);border:0.6px solid #7b9dd8;box-sizing:border-box;"></div><div style="position:absolute;left:461.50px;top:340.73px;width:59.50px;height:10.43px;background:#ffeb9c;"></div><div style="position:absolute;left:15.00px;top:340.73px;width:59.00px;height:10.43px;display:flex;align-items:center;justify-content:flex-end;white-space:nowrap;font:6.6px 'Liberation Sans', sans-serif;color:#111;-webkit-text-stroke:0.2px #111;padding-top:1px;box-sizing:border-box;">01/05/2025</div><div style="position:absolute;left:75.50px;top:340.73px;width:65.50px;height:10.43px;display:flex;align-items:center;justify-content:center;white-space:nowrap;font:6.6px 'Liberation Sans', sans-serif;color:#111;-webkit-text-stroke:0.2px #111;padding-top:1px;box-sizing:border-box;">North</div><div style="position:absolute;left:142.80px;top:340.73px;width:65.20px;height:10.43px;display:flex;align-items:center;justify-content:flex-start;white-space:nowrap;font:6.6px 'Liberation Sans', sans-serif;color:#111;-webkit-text-stroke:0.2px #111;padding-top:1px;box-sizing:border-box;">Alice Chen</div><div style="position:absolute;left:209.80px;top:340.73px;width:64.70px;height:10.43px;display:flex;align-items:center;justify-content:flex-start;white-space:nowrap;font:6.6px 'Liberation Sans', sans-serif;color:#111;-webkit-text-stroke:0.2px #111;padding-top:1px;box-sizing:border-box;">Widget A</div><div style="position:absolute;left:274.50px;top:340.73px;width:66.00px;height:10.43px;display:flex;align-items:center;justify-content:center;white-space:nowrap;font:6.6px 'Liberation Sans', sans-serif;color:#111;-webkit-text-stroke:0.2px #111;padding-top:1px;box-sizing:border-box;">45</div><div style="position:absolute;left:340.50px;top:340.73px;width:59.00px;height:10.43px;display:flex;align-items:center;justify-content:flex-end;white-space:nowrap;font:6.6px 'Liberation Sans', sans-serif;color:#111;-webkit-text-stroke:0.2px #111;padding-top:1px;box-sizing:border-box;">$29.99</div><div style="position:absolute;left:401.00px;top:340.73px;width:59.00px;height:10.43px;display:flex;align-items:center;justify-content:flex-end;white-space:nowrap;font:6.6px 'Liberation Sans', sans-serif;color:#111;-webkit-text-stroke:0.2px #111;padding-top:1px;box-sizing:border-box;">$1,349.55</div><div style="position:absolute;left:461.50px;top:340.73px;width:59.50px;height:10.43px;display:flex;align-items:center;justify-content:center;white-space:nowrap;font:6.6px 'Liberation Sans', sans-serif;color:#9c5700;padding-top:1px;box-sizing:border-box;">42.0%</div><div style="position:absolute;left:75.00px;top:340.73px;width:1.00px;height:10.43px;background:#c3d2ec;"></div><div style="position:absolute;left:140.50px;top:340.73px;width:1.00px;height:10.43px;background:#c3d2ec;"></div><div style="position:absolute;left:207.50px;top:340.73px;width:1.00px;height:10.43px;background:#c3d2ec;"></div><div style="position:absolute;left:274.00px;top:340.73px;width:1.00px;height:10.43px;background:#c3d2ec;"></div><div style="position:absolute;left:340.00px;top:340.73px;width:1.00px;height:10.43px;background:#c3d2ec;"></div><div style="position:absolute;left:400.50px;top:340.73px;width:1.00px;height:10.43px;background:#c3d2ec;"></div><div style="position:absolute;left:461.00px;top:340.73px;width:1.00px;height:10.43px;background:#c3d2ec;"></div><div style="position:absolute;left:15.00px;top:350.66px;width:506.00px;height:1.00px;background:#c5d3ec;"></div><div style="position:absolute;left:15.00px;top:351.16px;width:506.00px;height:10.43px;background:#ffffff;"></div><div style="position:absolute;left:401.60px;top:352.46px;width:13.73px;height:7.83px;background:linear-gradient(to right,#4470c2,#f2f5fb);border:0.6px solid #7b9dd8;box-sizing:border-box;"></div><div style="position:absolute;left:461.50px;top:351.16px;width:59.50px;height:10.43px;background:#ffc7ce;"></div><div style="position:absolute;left:15.00px;top:351.16px;width:59.00px;height:10.43px;display:flex;align-items:center;justify-content:flex-end;white-space:nowrap;font:6.6px 'Liberation Sans', sans-serif;color:#111;-webkit-text-stroke:0.2px #111;padding-top:1px;box-sizing:border-box;">01/08/2025</div><div style="position:absolute;left:75.50px;top:351.16px;width:65.50px;height:10.43px;display:flex;align-items:center;justify-content:center;white-space:nowrap;font:6.6px 'Liberation Sans', sans-serif;color:#111;-webkit-text-stroke:0.2px #111;padding-top:1px;box-sizing:border-box;">South</div><div style="position:absolute;left:142.80px;top:351.16px;width:65.20px;height:10.43px;display:flex;align-items:center;justify-content:flex-start;white-space:nowrap;font:6.6px 'Liberation Sans', sans-serif;color:#111;-webkit-text-stroke:0.2px #111;padding-top:1px;box-sizing:border-box;">Bob Martinez</div><div style="position:absolute;left:209.80px;top:351.16px;width:64.70px;height:10.43px;display:flex;align-items:center;justify-content:flex-start;white-space:nowrap;font:6.6px 'Liberation Sans', sans-serif;color:#111;-webkit-text-stroke:0.2px #111;padding-top:1px;box-sizing:border-box;">Widget B</div><div style="position:absolute;left:274.50px;top:351.16px;width:66.00px;height:10.43px;display:flex;align-items:center;justify-content:center;white-space:nowrap;font:6.6px 'Liberation Sans', sans-serif;color:#111;-webkit-text-stroke:0.2px #111;padding-top:1px;box-sizing:border-box;">32</div><div style="position:absolute;left:340.50px;top:351.16px;width:59.00px;height:10.43px;display:flex;align-items:center;justify-content:flex-end;white-space:nowrap;font:6.6px 'Liberation Sans', sans-serif;color:#111;-webkit-text-stroke:0.2px #111;padding-top:1px;box-sizing:border-box;">$49.99</div><div style="position:absolute;left:401.00px;top:351.16px;width:59.00px;height:10.43px;display:flex;align-items:center;justify-content:flex-end;white-space:nowrap;font:6.6px 'Liberation Sans', sans-serif;color:#111;-webkit-text-stroke:0.2px #111;padding-top:1px;box-sizing:border-box;">$1,599.68</div><div style="position:absolute;left:461.50px;top:351.16px;width:59.50px;height:10.43px;display:flex;align-items:center;justify-content:center;white-space:nowrap;font:6.6px 'Liberation Sans', sans-serif;color:#9c0006;padding-top:1px;box-sizing:border-box;">38.0%</div><div style="position:absolute;left:75.00px;top:351.16px;width:1.00px;height:10.43px;background:#c3d2ec;"></div><div style="position:absolute;left:140.50px;top:351.16px;width:1.00px;height:10.43px;background:#c3d2ec;"></div><div style="position:absolute;left:207.50px;top:351.16px;width:1.00px;height:10.43px;background:#c3d2ec;"></div><div style="position:absolute;left:274.00px;top:351.16px;width:1.00px;height:10.43px;background:#c3d2ec;"></div><div style="position:absolute;left:340.00px;top:351.16px;width:1.00px;height:10.43px;background:#c3d2ec;"></div><div style="position:absolute;left:400.50px;top:351.16px;width:1.00px;height:10.43px;background:#c3d2ec;"></div><div style="position:absolute;left:461.00px;top:351.16px;width:1.00px;height:10.43px;background:#c3d2ec;"></div><div style="position:absolute;left:15.00px;top:361.09px;width:506.00px;height:1.00px;background:#c5d3ec;"></div><div style="position:absolute;left:15.00px;top:361.59px;width:506.00px;height:10.43px;background:#dae5f1;"></div><div style="position:absolute;left:401.60px;top:362.89px;width:14.31px;height:7.83px;background:linear-gradient(to right,#4470c2,#f2f5fb);border:0.6px solid #7b9dd8;box-sizing:border-box;"></div><div style="position:absolute;left:461.50px;top:361.59px;width:59.50px;height:10.43px;background:#c6efce;"></div><div style="position:absolute;left:15.00px;top:361.59px;width:59.00px;height:10.43px;display:flex;align-items:center;justify-content:flex-end;white-space:nowrap;font:6.6px 'Liberation Sans', sans-serif;color:#111;-webkit-text-stroke:0.2px #111;padding-top:1px;box-sizing:border-box;">01/12/2025</div><div style="position:absolute;left:75.50px;top:361.59px;width:65.50px;height:10.43px;display:flex;align-items:center;justify-content:center;white-space:nowrap;font:6.6px 'Liberation Sans', sans-serif;color:#111;-webkit-text-stroke:0.2px #111;padding-top:1px;box-sizing:border-box;">East</div><div style="position:absolute;left:142.80px;top:361.59px;width:65.20px;height:10.43px;display:flex;align-items:center;justify-content:flex-start;white-space:nowrap;font:6.6px 'Liberation Sans', sans-serif;color:#111;-webkit-text-stroke:0.2px #111;padding-top:1px;box-sizing:border-box;">Carol Liu</div><div style="position:absolute;left:209.80px;top:361.59px;width:64.70px;height:10.43px;display:flex;align-items:center;justify-content:flex-start;white-space:nowrap;font:6.6px 'Liberation Sans', sans-serif;color:#111;-webkit-text-stroke:0.2px #111;padding-top:1px;box-sizing:border-box;">Gadget X</div><div style="position:absolute;left:274.50px;top:361.59px;width:66.00px;height:10.43px;display:flex;align-items:center;justify-content:center;white-space:nowrap;font:6.6px 'Liberation Sans', sans-serif;color:#111;-webkit-text-stroke:0.2px #111;padding-top:1px;box-sizing:border-box;">18</div><div style="position:absolute;left:340.50px;top:361.59px;width:59.00px;height:10.43px;display:flex;align-items:center;justify-content:flex-end;white-space:nowrap;font:6.6px 'Liberation Sans', sans-serif;color:#111;-webkit-text-stroke:0.2px #111;padding-top:1px;box-sizing:border-box;">$89.99</div><div style="position:absolute;left:401.00px;top:361.59px;width:59.00px;height:10.43px;display:flex;align-items:center;justify-content:flex-end;white-space:nowrap;font:6.6px 'Liberation Sans', sans-serif;color:#111;-webkit-text-stroke:0.2px #111;padding-top:1px;box-sizing:border-box;">$1,619.82</div><div style="position:absolute;left:461.50px;top:361.59px;width:59.50px;height:10.43px;display:flex;align-items:center;justify-content:center;white-space:nowrap;font:6.6px 'Liberation Sans', sans-serif;color:#006100;padding-top:1px;box-sizing:border-box;">55.0%</div><div style="position:absolute;left:75.00px;top:361.59px;width:1.00px;height:10.43px;background:#c3d2ec;"></div><div style="position:absolute;left:140.50px;top:361.59px;width:1.00px;height:10.43px;background:#c3d2ec;"></div><div style="position:absolute;left:207.50px;top:361.59px;width:1.00px;height:10.43px;background:#c3d2ec;"></div><div style="position:absolute;left:274.00px;top:361.59px;width:1.00px;height:10.43px;background:#c3d2ec;"></div><div style="position:absolute;left:340.00px;top:361.59px;width:1.00px;height:10.43px;background:#c3d2ec;"></div><div style="position:absolute;left:400.50px;top:361.59px;width:1.00px;height:10.43px;background:#c3d2ec;"></div><div style="position:absolute;left:461.00px;top:361.59px;width:1.00px;height:10.43px;background:#c3d2ec;"></div><div style="position:absolute;left:15.00px;top:371.52px;width:506.00px;height:1.00px;background:#c5d3ec;"></div><div style="position:absolute;left:15.00px;top:372.02px;width:506.00px;height:10.43px;background:#ffffff;"></div><div style="position:absolute;left:401.60px;top:373.32px;width:19.50px;height:7.83px;background:linear-gradient(to right,#4470c2,#f2f5fb);border:0.6px solid #7b9dd8;box-sizing:border-box;"></div><div style="position:absolute;left:461.50px;top:372.02px;width:59.50px;height:10.43px;background:#ffeb9c;"></div><div style="position:absolute;left:15.00px;top:372.02px;width:59.00px;height:10.43px;display:flex;align-items:center;justify-content:flex-end;white-space:nowrap;font:6.6px 'Liberation Sans', sans-serif;color:#111;-webkit-text-stroke:0.2px #111;padding-top:1px;box-sizing:border-box;">01/15/2025</div><div style="position:absolute;left:75.50px;top:372.02px;width:65.50px;height:10.43px;display:flex;align-items:center;justify-content:center;white-space:nowrap;font:6.6px 'Liberation Sans', sans-serif;color:#111;-webkit-text-stroke:0.2px #111;padding-top:1px;box-sizing:border-box;">West</div><div style="position:absolute;left:142.80px;top:372.02px;width:65.20px;height:10.43px;display:flex;align-items:center;justify-content:flex-start;white-space:nowrap;font:6.6px 'Liberation Sans', sans-serif;color:#111;-webkit-text-stroke:0.2px #111;padding-top:1px;box-sizing:border-box;">Dan Patel</div><div style="position:absolute;left:209.80px;top:372.02px;width:64.70px;height:10.43px;display:flex;align-items:center;justify-content:flex-start;white-space:nowrap;font:6.6px 'Liberation Sans', sans-serif;color:#111;-webkit-text-stroke:0.2px #111;padding-top:1px;box-sizing:border-box;">Widget A</div><div style="position:absolute;left:274.50px;top:372.02px;width:66.00px;height:10.43px;display:flex;align-items:center;justify-content:center;white-space:nowrap;font:6.6px 'Liberation Sans', sans-serif;color:#111;-webkit-text-stroke:0.2px #111;padding-top:1px;box-sizing:border-box;">60</div><div style="position:absolute;left:340.50px;top:372.02px;width:59.00px;height:10.43px;display:flex;align-items:center;justify-content:flex-end;white-space:nowrap;font:6.6px 'Liberation Sans', sans-serif;color:#111;-webkit-text-stroke:0.2px #111;padding-top:1px;box-sizing:border-box;">$29.99</div><div style="position:absolute;left:401.00px;top:372.02px;width:59.00px;height:10.43px;display:flex;align-items:center;justify-content:flex-end;white-space:nowrap;font:6.6px 'Liberation Sans', sans-serif;color:#111;-webkit-text-stroke:0.2px #111;padding-top:1px;box-sizing:border-box;">$1,799.40</div><div style="position:absolute;left:461.50px;top:372.02px;width:59.50px;height:10.43px;display:flex;align-items:center;justify-content:center;white-space:nowrap;font:6.6px 'Liberation Sans', sans-serif;color:#9c5700;padding-top:1px;box-sizing:border-box;">40.0%</div><div style="position:absolute;left:75.00px;top:372.02px;width:1.00px;height:10.43px;background:#c3d2ec;"></div><div style="position:absolute;left:140.50px;top:372.02px;width:1.00px;height:10.43px;background:#c3d2ec;"></div><div style="position:absolute;left:207.50px;top:372.02px;width:1.00px;height:10.43px;background:#c3d2ec;"></div><div style="position:absolute;left:274.00px;top:372.02px;width:1.00px;height:10.43px;background:#c3d2ec;"></div><div style="position:absolute;left:340.00px;top:372.02px;width:1.00px;height:10.43px;background:#c3d2ec;"></div><div style="position:absolute;left:400.50px;top:372.02px;width:1.00px;height:10.43px;background:#c3d2ec;"></div><div style="position:absolute;left:461.00px;top:372.02px;width:1.00px;height:10.43px;background:#c3d2ec;"></div><div style="position:absolute;left:15.00px;top:381.95px;width:506.00px;height:1.00px;background:#c5d3ec;"></div><div style="position:absolute;left:15.00px;top:382.45px;width:506.00px;height:10.43px;background:#dae5f1;"></div><div style="position:absolute;left:401.60px;top:383.75px;width:54.19px;height:7.83px;background:linear-gradient(to right,#4470c2,#f2f5fb);border:0.6px solid #7b9dd8;box-sizing:border-box;"></div><div style="position:absolute;left:461.50px;top:382.45px;width:59.50px;height:10.43px;background:#c6efce;"></div><div style="position:absolute;left:15.00px;top:382.45px;width:59.00px;height:10.43px;display:flex;align-items:center;justify-content:flex-end;white-space:nowrap;font:6.6px 'Liberation Sans', sans-serif;color:#111;-webkit-text-stroke:0.2px #111;padding-top:1px;box-sizing:border-box;">01/18/2025</div><div style="position:absolute;left:75.50px;top:382.45px;width:65.50px;height:10.43px;display:flex;align-items:center;justify-content:center;white-space:nowrap;font:6.6px 'Liberation Sans', sans-serif;color:#111;-webkit-text-stroke:0.2px #111;padding-top:1px;box-sizing:border-box;">North</div><div style="position:absolute;left:142.80px;top:382.45px;width:65.20px;height:10.43px;display:flex;align-items:center;justify-content:flex-start;white-space:nowrap;font:6.6px 'Liberation Sans', sans-serif;color:#111;-webkit-text-stroke:0.2px #111;padding-top:1px;box-sizing:border-box;">Eve Johnson</div><div style="position:absolute;left:209.80px;top:382.45px;width:64.70px;height:10.43px;display:flex;align-items:center;justify-content:flex-start;white-space:nowrap;font:6.6px 'Liberation Sans', sans-serif;color:#111;-webkit-text-stroke:0.2px #111;padding-top:1px;box-sizing:border-box;">Gadget Y</div><div style="position:absolute;left:274.50px;top:382.45px;width:66.00px;height:10.43px;display:flex;align-items:center;justify-content:center;white-space:nowrap;font:6.6px 'Liberation Sans', sans-serif;color:#111;-webkit-text-stroke:0.2px #111;padding-top:1px;box-sizing:border-box;">25</div><div style="position:absolute;left:340.50px;top:382.45px;width:59.00px;height:10.43px;display:flex;align-items:center;justify-content:flex-end;white-space:nowrap;font:6.6px 'Liberation Sans', sans-serif;color:#111;-webkit-text-stroke:0.2px #111;padding-top:1px;box-sizing:border-box;">$119.99</div><div style="position:absolute;left:401.00px;top:382.45px;width:59.00px;height:10.43px;display:flex;align-items:center;justify-content:flex-end;white-space:nowrap;font:6.6px 'Liberation Sans', sans-serif;color:#111;-webkit-text-stroke:0.2px #111;padding-top:1px;box-sizing:border-box;">$2,999.75</div><div style="position:absolute;left:461.50px;top:382.45px;width:59.50px;height:10.43px;display:flex;align-items:center;justify-content:center;white-space:nowrap;font:6.6px 'Liberation Sans', sans-serif;color:#006100;padding-top:1px;box-sizing:border-box;">62.0%</div><div style="position:absolute;left:75.00px;top:382.45px;width:1.00px;height:10.43px;background:#c3d2ec;"></div><div style="position:absolute;left:140.50px;top:382.45px;width:1.00px;height:10.43px;background:#c3d2ec;"></div><div style="position:absolute;left:207.50px;top:382.45px;width:1.00px;height:10.43px;background:#c3d2ec;"></div><div style="position:absolute;left:274.00px;top:382.45px;width:1.00px;height:10.43px;background:#c3d2ec;"></div><div style="position:absolute;left:340.00px;top:382.45px;width:1.00px;height:10.43px;background:#c3d2ec;"></div><div style="position:absolute;left:400.50px;top:382.45px;width:1.00px;height:10.43px;background:#c3d2ec;"></div><div style="position:absolute;left:461.00px;top:382.45px;width:1.00px;height:10.43px;background:#c3d2ec;"></div><div style="position:absolute;left:15.00px;top:392.38px;width:506.00px;height:1.00px;background:#c5d3ec;"></div><div style="position:absolute;left:15.00px;top:392.88px;width:506.00px;height:10.43px;background:#ffffff;"></div><div style="position:absolute;left:401.60px;top:394.18px;width:39.73px;height:7.83px;background:linear-gradient(to right,#4470c2,#f2f5fb);border:0.6px solid #7b9dd8;box-sizing:border-box;"></div><div style="position:absolute;left:461.50px;top:392.88px;width:59.50px;height:10.43px;background:#ffc7ce;"></div><div style="position:absolute;left:15.00px;top:392.88px;width:59.00px;height:10.43px;display:flex;align-items:center;justify-content:flex-end;white-space:nowrap;font:6.6px 'Liberation Sans', sans-serif;color:#111;-webkit-text-stroke:0.2px #111;padding-top:1px;box-sizing:border-box;">01/22/2025</div><div style="position:absolute;left:75.50px;top:392.88px;width:65.50px;height:10.43px;display:flex;align-items:center;justify-content:center;white-space:nowrap;font:6.6px 'Liberation Sans', sans-serif;color:#111;-webkit-text-stroke:0.2px #111;padding-top:1px;box-sizing:border-box;">South</div><div style="position:absolute;left:142.80px;top:392.88px;width:65.20px;height:10.43px;display:flex;align-items:center;justify-content:flex-start;white-space:nowrap;font:6.6px 'Liberation Sans', sans-serif;color:#111;-webkit-text-stroke:0.2px #111;padding-top:1px;box-sizing:border-box;">Frank Kim</div><div style="position:absolute;left:209.80px;top:392.88px;width:64.70px;height:10.43px;display:flex;align-items:center;justify-content:flex-start;white-space:nowrap;font:6.6px 'Liberation Sans', sans-serif;color:#111;-webkit-text-stroke:0.2px #111;padding-top:1px;box-sizing:border-box;">Widget B</div><div style="position:absolute;left:274.50px;top:392.88px;width:66.00px;height:10.43px;display:flex;align-items:center;justify-content:center;white-space:nowrap;font:6.6px 'Liberation Sans', sans-serif;color:#111;-webkit-text-stroke:0.2px #111;padding-top:1px;box-sizing:border-box;">50</div><div style="position:absolute;left:340.50px;top:392.88px;width:59.00px;height:10.43px;display:flex;align-items:center;justify-content:flex-end;white-space:nowrap;font:6.6px 'Liberation Sans', sans-serif;color:#111;-webkit-text-stroke:0.2px #111;padding-top:1px;box-sizing:border-box;">$49.99</div><div style="position:absolute;left:401.00px;top:392.88px;width:59.00px;height:10.43px;display:flex;align-items:center;justify-content:flex-end;white-space:nowrap;font:6.6px 'Liberation Sans', sans-serif;color:#111;-webkit-text-stroke:0.2px #111;padding-top:1px;box-sizing:border-box;">$2,499.50</div><div style="position:absolute;left:461.50px;top:392.88px;width:59.50px;height:10.43px;display:flex;align-items:center;justify-content:center;white-space:nowrap;font:6.6px 'Liberation Sans', sans-serif;color:#9c0006;padding-top:1px;box-sizing:border-box;">35.0%</div><div style="position:absolute;left:75.00px;top:392.88px;width:1.00px;height:10.43px;background:#c3d2ec;"></div><div style="position:absolute;left:140.50px;top:392.88px;width:1.00px;height:10.43px;background:#c3d2ec;"></div><div style="position:absolute;left:207.50px;top:392.88px;width:1.00px;height:10.43px;background:#c3d2ec;"></div><div style="position:absolute;left:274.00px;top:392.88px;width:1.00px;height:10.43px;background:#c3d2ec;"></div><div style="position:absolute;left:340.00px;top:392.88px;width:1.00px;height:10.43px;background:#c3d2ec;"></div><div style="position:absolute;left:400.50px;top:392.88px;width:1.00px;height:10.43px;background:#c3d2ec;"></div><div style="position:absolute;left:461.00px;top:392.88px;width:1.00px;height:10.43px;background:#c3d2ec;"></div><div style="position:absolute;left:15.00px;top:402.81px;width:506.00px;height:1.00px;background:#c5d3ec;"></div><div style="position:absolute;left:15.00px;top:403.31px;width:506.00px;height:10.43px;background:#dae5f1;"></div><div style="position:absolute;left:401.60px;top:404.61px;width:24.71px;height:7.83px;background:linear-gradient(to right,#4470c2,#f2f5fb);border:0.6px solid #7b9dd8;box-sizing:border-box;"></div><div style="position:absolute;left:461.50px;top:403.31px;width:59.50px;height:10.43px;background:#ffeb9c;"></div><div style="position:absolute;left:15.00px;top:403.31px;width:59.00px;height:10.43px;display:flex;align-items:center;justify-content:flex-end;white-space:nowrap;font:6.6px 'Liberation Sans', sans-serif;color:#111;-webkit-text-stroke:0.2px #111;padding-top:1px;box-sizing:border-box;">02/02/2025</div><div style="position:absolute;left:75.50px;top:403.31px;width:65.50px;height:10.43px;display:flex;align-items:center;justify-content:center;white-space:nowrap;font:6.6px 'Liberation Sans', sans-serif;color:#111;-webkit-text-stroke:0.2px #111;padding-top:1px;box-sizing:border-box;">East</div><div style="position:absolute;left:142.80px;top:403.31px;width:65.20px;height:10.43px;display:flex;align-items:center;justify-content:flex-start;white-space:nowrap;font:6.6px 'Liberation Sans', sans-serif;color:#111;-webkit-text-stroke:0.2px #111;padding-top:1px;box-sizing:border-box;">Alice Chen</div><div style="position:absolute;left:209.80px;top:403.31px;width:64.70px;height:10.43px;display:flex;align-items:center;justify-content:flex-start;white-space:nowrap;font:6.6px 'Liberation Sans', sans-serif;color:#111;-webkit-text-stroke:0.2px #111;padding-top:1px;box-sizing:border-box;">Gadget X</div><div style="position:absolute;left:274.50px;top:403.31px;width:66.00px;height:10.43px;display:flex;align-items:center;justify-content:center;white-space:nowrap;font:6.6px 'Liberation Sans', sans-serif;color:#111;-webkit-text-stroke:0.2px #111;padding-top:1px;box-sizing:border-box;">22</div><div style="position:absolute;left:340.50px;top:403.31px;width:59.00px;height:10.43px;display:flex;align-items:center;justify-content:flex-end;white-space:nowrap;font:6.6px 'Liberation Sans', sans-serif;color:#111;-webkit-text-stroke:0.2px #111;padding-top:1px;box-sizing:border-box;">$89.99</div><div style="position:absolute;left:401.00px;top:403.31px;width:59.00px;height:10.43px;display:flex;align-items:center;justify-content:flex-end;white-space:nowrap;font:6.6px 'Liberation Sans', sans-serif;color:#111;-webkit-text-stroke:0.2px #111;padding-top:1px;box-sizing:border-box;">$1,979.78</div><div style="position:absolute;left:461.50px;top:403.31px;width:59.50px;height:10.43px;display:flex;align-items:center;justify-content:center;white-space:nowrap;font:6.6px 'Liberation Sans', sans-serif;color:#9c5700;padding-top:1px;box-sizing:border-box;">52.0%</div><div style="position:absolute;left:75.00px;top:403.31px;width:1.00px;height:10.43px;background:#c3d2ec;"></div><div style="position:absolute;left:140.50px;top:403.31px;width:1.00px;height:10.43px;background:#c3d2ec;"></div><div style="position:absolute;left:207.50px;top:403.31px;width:1.00px;height:10.43px;background:#c3d2ec;"></div><div style="position:absolute;left:274.00px;top:403.31px;width:1.00px;height:10.43px;background:#c3d2ec;"></div><div style="position:absolute;left:340.00px;top:403.31px;width:1.00px;height:10.43px;background:#c3d2ec;"></div><div style="position:absolute;left:400.50px;top:403.31px;width:1.00px;height:10.43px;background:#c3d2ec;"></div><div style="position:absolute;left:461.00px;top:403.31px;width:1.00px;height:10.43px;background:#c3d2ec;"></div><div style="position:absolute;left:15.00px;top:413.24px;width:506.00px;height:1.00px;background:#c5d3ec;"></div><div style="position:absolute;left:15.00px;top:413.74px;width:506.00px;height:10.43px;background:#ffffff;"></div><div style="position:absolute;left:401.60px;top:415.04px;width:1.60px;height:7.83px;background:linear-gradient(to right,#4470c2,#f2f5fb);border:0.6px solid #7b9dd8;box-sizing:border-box;"></div><div style="position:absolute;left:461.50px;top:413.74px;width:59.50px;height:10.43px;background:#ffeb9c;"></div><div style="position:absolute;left:15.00px;top:413.74px;width:59.00px;height:10.43px;display:flex;align-items:center;justify-content:flex-end;white-space:nowrap;font:6.6px 'Liberation Sans', sans-serif;color:#111;-webkit-text-stroke:0.2px #111;padding-top:1px;box-sizing:border-box;">02/06/2025</div><div style="position:absolute;left:75.50px;top:413.74px;width:65.50px;height:10.43px;display:flex;align-items:center;justify-content:center;white-space:nowrap;font:6.6px 'Liberation Sans', sans-serif;color:#111;-webkit-text-stroke:0.2px #111;padding-top:1px;box-sizing:border-box;">West</div><div style="position:absolute;left:142.80px;top:413.74px;width:65.20px;height:10.43px;display:flex;align-items:center;justify-content:flex-start;white-space:nowrap;font:6.6px 'Liberation Sans', sans-serif;color:#111;-webkit-text-stroke:0.2px #111;padding-top:1px;box-sizing:border-box;">Bob Martinez</div><div style="position:absolute;left:209.80px;top:413.74px;width:64.70px;height:10.43px;display:flex;align-items:center;justify-content:flex-start;white-space:nowrap;font:6.6px 'Liberation Sans', sans-serif;color:#111;-webkit-text-stroke:0.2px #111;padding-top:1px;box-sizing:border-box;">Widget A</div><div style="position:absolute;left:274.50px;top:413.74px;width:66.00px;height:10.43px;display:flex;align-items:center;justify-content:center;white-space:nowrap;font:6.6px 'Liberation Sans', sans-serif;color:#111;-webkit-text-stroke:0.2px #111;padding-top:1px;box-sizing:border-box;">38</div><div style="position:absolute;left:340.50px;top:413.74px;width:59.00px;height:10.43px;display:flex;align-items:center;justify-content:flex-end;white-space:nowrap;font:6.6px 'Liberation Sans', sans-serif;color:#111;-webkit-text-stroke:0.2px #111;padding-top:1px;box-sizing:border-box;">$29.99</div><div style="position:absolute;left:401.00px;top:413.74px;width:59.00px;height:10.43px;display:flex;align-items:center;justify-content:flex-end;white-space:nowrap;font:6.6px 'Liberation Sans', sans-serif;color:#111;-webkit-text-stroke:0.2px #111;padding-top:1px;box-sizing:border-box;">$1,139.62</div><div style="position:absolute;left:461.50px;top:413.74px;width:59.50px;height:10.43px;display:flex;align-items:center;justify-content:center;white-space:nowrap;font:6.6px 'Liberation Sans', sans-serif;color:#9c5700;padding-top:1px;box-sizing:border-box;">41.0%</div><div style="position:absolute;left:75.00px;top:413.74px;width:1.00px;height:10.43px;background:#c3d2ec;"></div><div style="position:absolute;left:140.50px;top:413.74px;width:1.00px;height:10.43px;background:#c3d2ec;"></div><div style="position:absolute;left:207.50px;top:413.74px;width:1.00px;height:10.43px;background:#c3d2ec;"></div><div style="position:absolute;left:274.00px;top:413.74px;width:1.00px;height:10.43px;background:#c3d2ec;"></div><div style="position:absolute;left:340.00px;top:413.74px;width:1.00px;height:10.43px;background:#c3d2ec;"></div><div style="position:absolute;left:400.50px;top:413.74px;width:1.00px;height:10.43px;background:#c3d2ec;"></div><div style="position:absolute;left:461.00px;top:413.74px;width:1.00px;height:10.43px;background:#c3d2ec;"></div><div style="position:absolute;left:15.00px;top:423.67px;width:506.00px;height:1.00px;background:#c5d3ec;"></div><div style="position:absolute;left:519.80px;top:330.30px;width:1.20px;height:93.87px;background:#3a62ad;"></div><div style="position:absolute;left:0.00px;top:424.00px;width:594.00px;height:15.50px;background:#f0f0f0;border-top:1px solid #dcdcdc;box-sizing:border-box;"></div><svg style="position:absolute;left:8.0px;top:428.0px" width="20" height="9" viewBox="0 0 20 9"><polygon points="5,1.5 1.5,4.5 5,7.5" fill="#c4c4c4"/><polygon points="14.5,1.5 18,4.5 14.5,7.5" fill="#c4c4c4"/></svg><div style="position:absolute;left:37.00px;top:426.60px;width:66.00px;height:11.40px;background:#3e70c9;border-radius:1px;"></div><div style="position:absolute;left:37.00px;top:426.90px;width:66.00px;height:11.40px;display:flex;align-items:center;justify-content:center;white-space:nowrap;font:7.3px 'Liberation Sans', sans-serif;color:#fff;-webkit-text-stroke:0.25px #fff;">Pivot Summary</div><div style="position:absolute;left:106.00px;top:426.60px;width:53.60px;height:10.20px;background:linear-gradient(#eef6ec,#c9e3c2);border:0.5px solid #cfe0cb;border-bottom:1px solid #a9c9a2;border-radius:1px;box-sizing:border-box;box-shadow:0 1px 1px rgba(0,0,0,0.12);"></div><div style="position:absolute;left:106.00px;top:427.00px;width:53.60px;height:10.10px;display:flex;align-items:center;justify-content:center;white-space:nowrap;font:7.35px 'Liberation Sans', sans-serif;color:#2a8439;-webkit-text-stroke:0.35px #2a8439;">Dashboard</div><svg style="position:absolute;left:169.2px;top:428.6px" width="6.4" height="6.4" viewBox="0 0 6.4 6.4"><path d="M3.2,0.2 V6.2 M0.2,3.2 H6.2" stroke="#505050" stroke-width="1.1"/></svg><div style="position:absolute;left:182.30px;top:426.50px;width:0.80px;height:11.00px;background:#dadada;"></div><div style="position:absolute;left:496.00px;top:0.00px;width:70.00px;height:439.50px;background:linear-gradient(to right,rgba(0,0,0,0) 0%,rgba(0,0,0,0.035) 50%,rgba(0,0,0,0.04) 100%);"></div><div style="position:absolute;left:566.00px;top:0.00px;width:28.00px;height:439.50px;background:rgba(0,0,0,0.14);"></div>
</div>
<div class="a" style="left:622.0px;top:44.0px;width:322.0px;height:475.5px;border-radius:10px;background:#f9f8f4;will-change:transform;box-shadow:0 0 0 0.5px rgba(0,0,0,0.06),0 6px 40px rgba(20,30,10,0.31);overflow:hidden;">
<div style="position:absolute;left:13.00px;top:10.91px;line-height:11.72px;white-space:nowrap;font:10.2px 'Liberation Serif', serif;color:#55554f;-webkit-text-stroke:0.2px #55554f;">Opus 4.6</div><svg style="position:absolute;left:57.799999999999955px;top:14.600000000000001px" width="6" height="4.4" viewBox="0 0 6 4.4"><polyline points="0.6,0.8 3,3.4 5.4,0.8" fill="none" stroke="#8a8984" stroke-width="1"/></svg><div style="position:absolute;left:71.50px;top:12.37px;line-height:10.23px;white-space:nowrap;font:8.9px 'Liberation Sans', sans-serif;color:#6a6964;-webkit-text-stroke:0.35px #6a6964;">BETA</div><svg style="position:absolute;left:280.0px;top:11.299999999999997px" width="11" height="11" viewBox="0 0 11 11"><path d="M3.77,9.22 A4.1,4.1 0 1 0 1.78,7.23 L1.4,9.7 Z" fill="none" stroke="#73726d" stroke-width="0.85" stroke-linejoin="round"/><path d="M4.2,5.6 L6.7,4.5 L6.7,6.7 Z" fill="#73726d"/></svg><svg style="position:absolute;left:297.79999999999995px;top:11.5px" width="11" height="11" viewBox="0 0 11 11"><circle cx="5.5" cy="5.5" r="3.55" fill="none" stroke="#73726d" stroke-width="0.85"/><circle cx="5.5" cy="5.5" r="4.25" fill="none" stroke="#7a7974" stroke-width="0.95" stroke-dasharray="1.45 1.888" transform="rotate(-10 5.5 5.5)"/><circle cx="5.5" cy="5.5" r="1.5" fill="none" stroke="#73726d" stroke-width="0.75"/></svg><div style="position:absolute;left:13.50px;top:35.00px;width:292.00px;height:8.50px;border:1px solid #f3f1ec;border-top:none;border-radius:0 0 8px 8px;box-sizing:border-box;"></div><div style="position:absolute;left:13.80px;top:51.42px;line-height:12.35px;white-space:nowrap;font:10.75px 'Liberation Serif', serif;color:#2f2f2c;-webkit-text-stroke:0.2px #2f2f2c;">Here’s the full summary of your <b>Sales Dashboard</b>:</div><div style="position:absolute;left:14.00px;top:75.00px;width:291.00px;height:1.00px;background:#ebe9e2;"></div><svg style="position:absolute;left:14.799999999999955px;top:87.80000000000001px" width="11.2" height="13" viewBox="0 0 11.2 13"><rect x="0" y="0.3" width="11.2" height="12.7" fill="#e3ebf5"/><rect x="0.2" y="4.2" width="3.2" height="8.6" rx="0.8" fill="#14c12c"/><rect x="4.1" y="6.6" width="3.1" height="6.2" rx="0.8" fill="#d50f12"/><rect x="7.9" y="1" width="3.1" height="11.8" rx="0.8" fill="#1d62d6"/></svg><div style="position:absolute;left:29.40px;top:86.91px;line-height:13.79px;white-space:nowrap;font:bold 12px 'Liberation Serif', serif;color:#232320;">Key Metrics</div><div style="position:absolute;left:13.50px;top:112.00px;width:292.00px;height:137.75px;border:1px solid #dcd9d1;border-radius:6px;box-sizing:border-box;"></div><div style="position:absolute;left:206.50px;top:112.00px;width:1.00px;height:137.75px;background:#dcd9d1;"></div><div style="position:absolute;left:13.50px;top:139.05px;width:292.00px;height:1.00px;background:#dcd9d1;"></div><div style="position:absolute;left:13.50px;top:166.60px;width:292.00px;height:1.00px;background:#dcd9d1;"></div><div style="position:absolute;left:13.50px;top:194.15px;width:292.00px;height:1.00px;background:#dcd9d1;"></div><div style="position:absolute;left:13.50px;top:221.70px;width:292.00px;height:1.00px;background:#dcd9d1;"></div><div style="position:absolute;left:22.40px;top:119.82px;line-height:12.35px;white-space:nowrap;font:10.75px 'Liberation Serif', serif;color:#55544f;-webkit-text-stroke:0.2px #55544f;">Metric</div><div style="position:absolute;left:215.20px;top:119.82px;line-height:12.35px;white-space:nowrap;font:10.75px 'Liberation Serif', serif;color:#55544f;-webkit-text-stroke:0.2px #55544f;">Value</div><div style="position:absolute;left:22.40px;top:147.37px;line-height:12.35px;white-space:nowrap;font:bold 10.75px 'Liberation Serif', serif;color:#262623;">Total Revenue</div><div style="position:absolute;left:215.20px;top:147.37px;line-height:12.35px;white-space:nowrap;font:bold 10.75px 'Liberation Serif', serif;color:#262623;">$62,549</div><div style="position:absolute;left:22.40px;top:174.92px;line-height:12.35px;white-space:nowrap;font:bold 10.75px 'Liberation Serif', serif;color:#262623;">Total Units Sold</div><div style="position:absolute;left:215.20px;top:174.92px;line-height:12.35px;white-space:nowrap;font:bold 10.75px 'Liberation Serif', serif;color:#262623;">1,054</div><div style="position:absolute;left:22.40px;top:202.47px;line-height:12.35px;white-space:nowrap;font:bold 10.75px 'Liberation Serif', serif;color:#262623;">Avg Margin</div><div style="position:absolute;left:215.20px;top:202.47px;line-height:12.35px;white-space:nowrap;font:bold 10.75px 'Liberation Serif', serif;color:#262623;">47.9%</div><div style="position:absolute;left:22.40px;top:230.02px;line-height:12.35px;white-space:nowrap;font:bold 10.75px 'Liberation Serif', serif;color:#262623;">Top Region</div><div style="position:absolute;left:215.20px;top:230.02px;line-height:12.35px;white-space:nowrap;font:bold 10.75px 'Liberation Serif', serif;color:#262623;">South</div><svg style="position:absolute;left:14.0px;top:260.9px" width="13" height="14.2" viewBox="0 0 13 14.2"><defs><linearGradient id="tg" x1="0" x2="1"><stop offset="0" stop-color="#f2b829"/><stop offset="0.45" stop-color="#d9950c"/><stop offset="1" stop-color="#f4be2e"/></linearGradient></defs><path d="M2.4,1.5 C0.2,1.3 0.1,4.9 3.3,5.3" fill="none" stroke="#e9aa1d" stroke-width="1"/><path d="M10.6,1.5 C12.8,1.3 12.9,4.9 9.7,5.3" fill="none" stroke="#e9aa1d" stroke-width="1"/><path d="M2.6,0.4 H10.4 C10.4,4.6 8.8,7.2 6.5,7.4 C4.2,7.2 2.6,4.6 2.6,0.4 Z" fill="url(#tg)"/><path d="M5.6,7 H7.4 L7.1,10 H5.9 Z" fill="#d8930f"/><path d="M4,9.9 H9 L10.2,13.8 H2.8 Z" fill="#c98a34"/><rect x="4.8" y="11.4" width="3.4" height="1.2" fill="#e6b04a"/></svg><div style="position:absolute;left:29.90px;top:261.31px;line-height:13.79px;white-space:nowrap;font:bold 12px 'Liberation Serif', serif;color:#232320;">Revenue by Region</div><div style="position:absolute;left:13.50px;top:285.70px;width:292.00px;height:137.75px;border:1px solid #dcd9d1;border-radius:6px;box-sizing:border-box;"></div><div style="position:absolute;left:105.30px;top:285.70px;width:1.00px;height:137.75px;background:#dcd9d1;"></div><div style="position:absolute;left:197.50px;top:285.70px;width:1.00px;height:137.75px;background:#dcd9d1;"></div><div style="position:absolute;left:13.50px;top:312.75px;width:292.00px;height:1.00px;background:#dcd9d1;"></div><div style="position:absolute;left:13.50px;top:340.30px;width:292.00px;height:1.00px;background:#dcd9d1;"></div><div style="position:absolute;left:13.50px;top:367.85px;width:292.00px;height:1.00px;background:#dcd9d1;"></div><div style="position:absolute;left:13.50px;top:395.40px;width:292.00px;height:1.00px;background:#dcd9d1;"></div><div style="position:absolute;left:22.30px;top:293.22px;line-height:12.35px;white-space:nowrap;font:10.75px 'Liberation Serif', serif;color:#55544f;-webkit-text-stroke:0.2px #55544f;">Region</div><div style="position:absolute;left:114.20px;top:293.22px;line-height:12.35px;white-space:nowrap;font:10.75px 'Liberation Serif', serif;color:#55544f;-webkit-text-stroke:0.2px #55544f;">Revenue</div><div style="position:absolute;left:206.30px;top:293.22px;line-height:12.35px;white-space:nowrap;font:10.75px 'Liberation Serif', serif;color:#55544f;-webkit-text-stroke:0.2px #55544f;">Share</div><div style="position:absolute;left:22.30px;top:320.77px;line-height:12.35px;white-space:nowrap;font:bold 10.75px 'Liberation Serif', serif;color:#262623;">South</div><div style="position:absolute;left:114.20px;top:320.77px;line-height:12.35px;white-space:nowrap;font:10.75px 'Liberation Serif', serif;color:#2b2b28;letter-spacing:-0.3px;-webkit-text-stroke:0.1px #2b2b28;">$17,507</div><div style="position:absolute;left:206.30px;top:320.77px;line-height:12.35px;white-space:nowrap;font:10.75px 'Liberation Serif', serif;color:#2b2b28;letter-spacing:-0.3px;-webkit-text-stroke:0.1px #2b2b28;">28.0% — <i>#1 performer</i></div><div style="position:absolute;left:22.30px;top:348.32px;line-height:12.35px;white-space:nowrap;font:10.75px 'Liberation Serif', serif;color:#2b2b28;letter-spacing:-0.3px;-webkit-text-stroke:0.1px #2b2b28;">North</div><div style="position:absolute;left:114.20px;top:348.32px;line-height:12.35px;white-space:nowrap;font:10.75px 'Liberation Serif', serif;color:#2b2b28;letter-spacing:-0.3px;-webkit-text-stroke:0.1px #2b2b28;">$15,747</div><div style="position:absolute;left:206.30px;top:348.32px;line-height:12.35px;white-space:nowrap;font:10.75px 'Liberation Serif', serif;color:#2b2b28;letter-spacing:-0.3px;-webkit-text-stroke:0.1px #2b2b28;">25.2%</div><div style="position:absolute;left:22.30px;top:375.87px;line-height:12.35px;white-space:nowrap;font:10.75px 'Liberation Serif', serif;color:#2b2b28;letter-spacing:-0.3px;-webkit-text-stroke:0.1px #2b2b28;">East</div><div style="position:absolute;left:114.20px;top:375.87px;line-height:12.35px;white-space:nowrap;font:10.75px 'Liberation Serif', serif;color:#2b2b28;letter-spacing:-0.3px;-webkit-text-stroke:0.1px #2b2b28;">$15,338</div><div style="position:absolute;left:206.30px;top:375.87px;line-height:12.35px;white-space:nowrap;font:10.75px 'Liberation Serif', serif;color:#2b2b28;letter-spacing:-0.3px;-webkit-text-stroke:0.1px #2b2b28;">24.5%</div><div style="position:absolute;left:10.00px;top:375.20px;width:301.00px;height:32.80px;background:#f1f0ea;border:1px solid #e7e5de;border-radius:9px 9px 0 0;box-sizing:border-box;"></div><div style="position:absolute;left:22.20px;top:384.93px;line-height:9.77px;white-space:nowrap;font:8.5px 'Liberation Sans', sans-serif;color:#55544f;-webkit-text-stroke:0.3px #55544f;">F24 selected</div><svg style="position:absolute;left:290.29999999999995px;top:386.3px" width="6.5" height="6.5" viewBox="0 0 6.5 6.5"><path d="M0.8,0.8 L5.7,5.7 M5.7,0.8 L0.8,5.7" stroke="#666" stroke-width="0.85"/></svg><div style="position:absolute;left:10.00px;top:401.20px;width:301.00px;height:63.30px;background:#fff;border:1px solid #e9e7e1;border-radius:9px;box-sizing:border-box;box-shadow:0 1px 2px rgba(0,0,0,0.04);"></div><div style="position:absolute;left:22.20px;top:413.48px;line-height:11.38px;white-space:nowrap;font:9.9px 'Liberation Sans', sans-serif;color:#8a8985;-webkit-text-stroke:0.25px #8a8985;">What can I do for you?</div><svg style="position:absolute;left:21.799999999999955px;top:443.2px" width="8.6" height="9.4" viewBox="0 0 8.6 9.4"><ellipse cx="4.3" cy="4.7" rx="3.8" ry="4.2" fill="none" stroke="#6e6d68" stroke-width="0.9"/><path d="M2.9,4.8 V2.6 M4.3,4.4 V1.6 M5.6,4.6 V2.2 M2.5,4.6 C2.3,6.6 3.2,7.6 4.5,7.6 C5.8,7.6 6.6,6.5 6.5,4.6" fill="none" stroke="#6e6d68" stroke-width="0.8"/></svg><div style="position:absolute;left:32.60px;top:442.46px;line-height:10.11px;white-space:nowrap;font:8.8px 'Liberation Sans', sans-serif;color:#55544f;-webkit-text-stroke:0.3px #55544f;">Ask before edits</div><svg style="position:absolute;left:98.79999999999995px;top:445.8px" width="6" height="4" viewBox="0 0 6 4"><polyline points="0.6,0.7 3,3.1 5.4,0.7" fill="none" stroke="#888" stroke-width="0.8"/></svg><div style="position:absolute;left:259.80px;top:438.00px;width:18.60px;height:18.80px;border:1px solid #efeeea;border-radius:5px;box-sizing:border-box;background:#fff;"></div><svg style="position:absolute;left:264.6px;top:442.9px" width="9" height="9" viewBox="0 0 9 9"><path d="M4.5,0.9 V8.1 M0.9,4.5 H8.1" stroke="#5a5a5a" stroke-width="1"/></svg><div style="position:absolute;left:284.00px;top:438.00px;width:18.80px;height:18.80px;background:#e6b0a1;border-radius:5.5px;"></div><svg style="position:absolute;left:288.9px;top:442.9px" width="9" height="9" viewBox="0 0 9 9"><path d="M4.5,8.3 V1.4 M1.5,4.3 L4.5,1.2 L7.5,4.3" fill="none" stroke="#fff" stroke-width="1.2"/></svg>
</div>
</body></html>
